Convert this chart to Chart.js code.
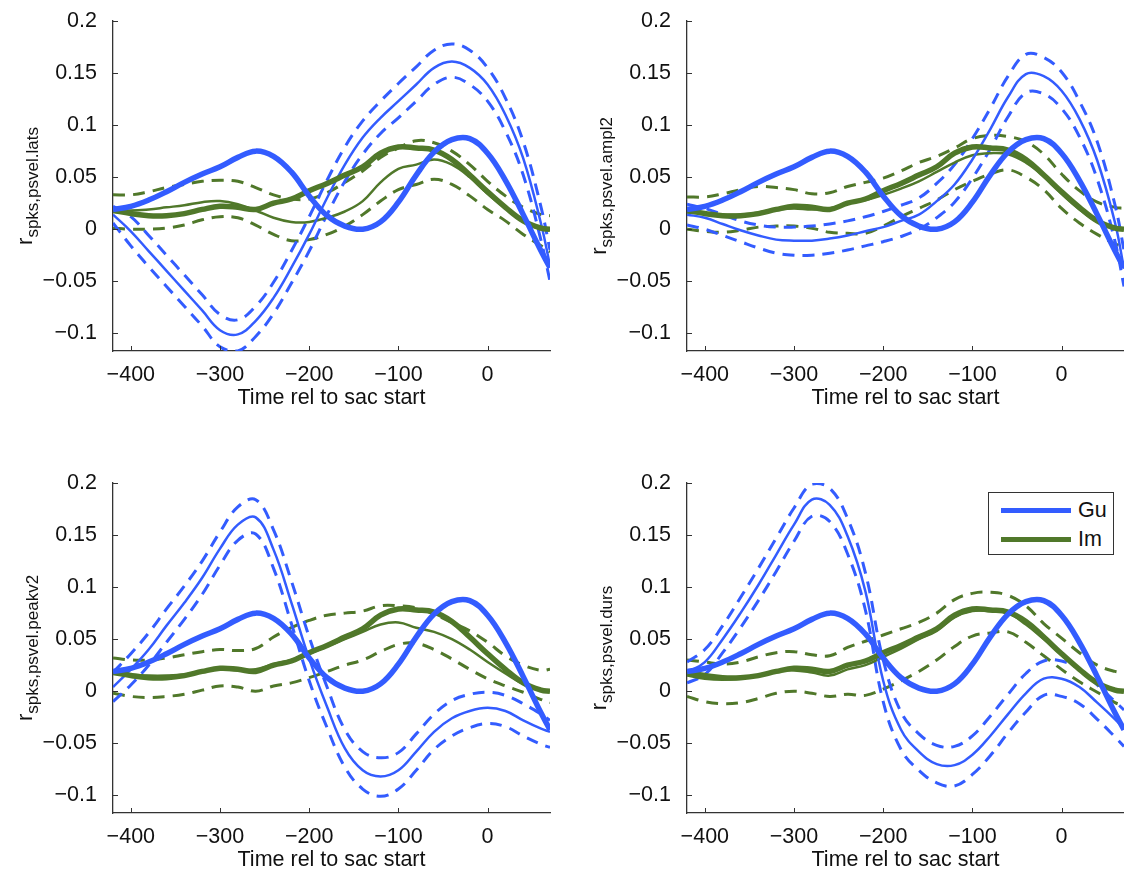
<!DOCTYPE html>
<html>
<head>
<meta charset="utf-8">
<script src="https://cdn.jsdelivr.net/npm/chart.js@4.4.1/dist/chart.umd.min.js"></script>
<style>
  html, body { margin: 0; padding: 0; background: #fff; overflow: hidden; }
  body { width: 1124px; height: 874px; position: relative; font-family: "Liberation Sans", Arial, Helvetica, sans-serif; color: #111; }
  .panel { position: absolute; width: 562px; height: 437px; }
  .ylab { position: absolute; transform: translate(-50%, -50%) rotate(-90deg); white-space: nowrap; font-size: 22px; line-height: 1; }
  .ylab sub { font-size: 17px; vertical-align: -6px; }
  .legend { position: absolute; left: 988px; top: 492px; width: 124px; height: 61px; border: 1.3px solid #333; background: #fff; }
  .legend .row { position: absolute; left: 12px; height: 24px; display: flex; align-items: center; font-size: 21.5px; }
  .legend .swatch { width: 70px; height: 5px; margin-right: 7px; }
</style>
</head>
<body>
<div class="panel" style="left:0;top:0"><canvas id="c-lats"></canvas></div>
<div class="panel" style="left:562px;top:0"><canvas id="c-ampl2"></canvas></div>
<div class="panel" style="left:0;top:437px"><canvas id="c-peakv2"></canvas></div>
<div class="panel" style="left:562px;top:437px"><canvas id="c-durs"></canvas></div>

<div class="ylab" style="left:27px;top:186px">r<sub>spks,psvel.lats</sub></div>
<div class="ylab" style="left:601px;top:186px">r<sub>spks,psvel.ampl2</sub></div>
<div class="ylab" style="left:27px;top:648px">r<sub>spks,psvel.peakv2</sub></div>
<div class="ylab" style="left:601px;top:648px">r<sub>spks,psvel.durs</sub></div>

<div class="legend">
  <div class="row" style="top:5px"><span class="swatch" style="background:#335cff"></span>Gu</div>
  <div class="row" style="top:34px"><span class="swatch" style="background:#50782a"></span>Im</div>
</div>

<script>
// time relative to saccade start (ms)
const timeMs = [-420, -400, -380, -360, -340, -320, -300, -280, -260, -240, -220, -200, -180, -160, -140, -120, -100, -80, -60, -40, -20, 0, 20, 40, 60, 70];
const timeTicks = [-400, -300, -200, -100, 0];
const rTicks = [-0.1, -0.05, 0, 0.05, 0.1, 0.15, 0.2];

// pooled curves, same in every panel
const guAll = [0.019, 0.022, 0.028, 0.036, 0.045, 0.053, 0.060, 0.069, 0.075, 0.070, 0.055, 0.032, 0.013, 0.003, 0.000, 0.007, 0.026, 0.052, 0.074, 0.086, 0.087, 0.073, 0.047, 0.014, -0.021, -0.037];
const imAll = [0.018, 0.015, 0.013, 0.013, 0.015, 0.019, 0.022, 0.021, 0.019, 0.025, 0.029, 0.037, 0.044, 0.052, 0.060, 0.073, 0.079, 0.078, 0.076, 0.067, 0.052, 0.036, 0.021, 0.008, 0.001, 0.000];

// lats
const guLats   = [0.014, -0.002, -0.021, -0.040, -0.059, -0.078, -0.097, -0.101, -0.088, -0.066, -0.037, -0.005, 0.030, 0.062, 0.088, 0.107, 0.123, 0.139, 0.155, 0.161, 0.155, 0.139, 0.110, 0.068, 0.005, -0.035];
const guLatsHi = [0.022, 0.012, -0.006, -0.025, -0.044, -0.063, -0.082, -0.087, -0.074, -0.051, -0.021, 0.012, 0.047, 0.079, 0.104, 0.123, 0.140, 0.156, 0.172, 0.178, 0.172, 0.155, 0.126, 0.084, 0.021, -0.020];
const guLatsLo = [0.006, -0.016, -0.036, -0.055, -0.074, -0.093, -0.113, -0.117, -0.103, -0.081, -0.052, -0.021, 0.014, 0.046, 0.072, 0.092, 0.107, 0.123, 0.139, 0.146, 0.139, 0.123, 0.094, 0.052, -0.011, -0.050];
const imLats   = [0.019, 0.018, 0.019, 0.021, 0.023, 0.026, 0.027, 0.024, 0.018, 0.011, 0.007, 0.007, 0.011, 0.017, 0.027, 0.045, 0.058, 0.062, 0.067, 0.062, 0.050, 0.034, 0.020, 0.007, 0.000, -0.001];
const imLatsHi = [0.033, 0.033, 0.036, 0.040, 0.043, 0.046, 0.047, 0.046, 0.040, 0.033, 0.029, 0.029, 0.035, 0.045, 0.056, 0.069, 0.078, 0.085, 0.083, 0.075, 0.062, 0.046, 0.032, 0.021, 0.014, 0.013];
const imLatsLo = [0.001, 0.000, 0.000, 0.001, 0.004, 0.009, 0.012, 0.011, 0.004, -0.005, -0.011, -0.010, -0.005, 0.003, 0.014, 0.027, 0.038, 0.043, 0.048, 0.043, 0.032, 0.019, 0.008, -0.005, -0.016, -0.022];

// ampl2
const guAmpl   = [0.014, 0.011, 0.005, -0.001, -0.006, -0.010, -0.011, -0.011, -0.009, -0.006, -0.002, 0.002, 0.008, 0.014, 0.027, 0.043, 0.067, 0.096, 0.127, 0.149, 0.147, 0.133, 0.106, 0.066, 0.006, -0.038];
const guAmplHi = [0.024, 0.020, 0.014, 0.008, 0.004, 0.002, 0.002, 0.003, 0.005, 0.008, 0.012, 0.017, 0.023, 0.030, 0.044, 0.062, 0.087, 0.116, 0.147, 0.168, 0.165, 0.151, 0.123, 0.084, 0.023, -0.020];
const guAmplLo = [0.004, 0.000, -0.006, -0.012, -0.018, -0.023, -0.025, -0.025, -0.023, -0.020, -0.016, -0.012, -0.007, 0.000, 0.011, 0.026, 0.049, 0.077, 0.108, 0.131, 0.130, 0.116, 0.089, 0.048, -0.012, -0.055];
const imAmpl   = [0.016, 0.015, 0.014, 0.014, 0.016, 0.019, 0.020, 0.019, 0.020, 0.025, 0.028, 0.033, 0.039, 0.046, 0.055, 0.064, 0.071, 0.073, 0.072, 0.064, 0.051, 0.034, 0.019, 0.007, 0.001, 0.000];
const imAmplHi = [0.031, 0.031, 0.034, 0.038, 0.041, 0.040, 0.038, 0.034, 0.035, 0.041, 0.045, 0.049, 0.056, 0.064, 0.070, 0.078, 0.087, 0.090, 0.089, 0.084, 0.072, 0.053, 0.037, 0.026, 0.021, 0.020];
const imAmplLo = [0.000, -0.002, -0.003, -0.001, 0.002, 0.003, 0.003, 0.001, -0.003, -0.004, -0.004, 0.003, 0.012, 0.020, 0.028, 0.038, 0.046, 0.053, 0.057, 0.050, 0.038, 0.020, 0.006, -0.005, -0.014, -0.017];

// peakv2
const guPeak   = [0.004, 0.021, 0.040, 0.063, 0.085, 0.109, 0.137, 0.160, 0.167, 0.136, 0.085, 0.031, -0.015, -0.055, -0.076, -0.082, -0.076, -0.058, -0.039, -0.026, -0.019, -0.016, -0.019, -0.028, -0.036, -0.039];
const guPeakHi = [0.018, 0.036, 0.056, 0.079, 0.101, 0.125, 0.153, 0.177, 0.184, 0.155, 0.106, 0.052, 0.004, -0.037, -0.058, -0.064, -0.059, -0.041, -0.022, -0.009, -0.003, -0.001, -0.004, -0.012, -0.022, -0.028];
const guPeakLo = [-0.010, 0.006, 0.025, 0.047, 0.069, 0.093, 0.121, 0.145, 0.151, 0.118, 0.065, 0.010, -0.035, -0.073, -0.094, -0.101, -0.094, -0.076, -0.056, -0.043, -0.035, -0.031, -0.034, -0.043, -0.051, -0.054];
const imPeak   = [0.017, 0.016, 0.015, 0.015, 0.016, 0.019, 0.021, 0.020, 0.021, 0.026, 0.030, 0.036, 0.043, 0.050, 0.057, 0.064, 0.066, 0.061, 0.057, 0.050, 0.040, 0.028, 0.017, 0.007, 0.002, 0.000];
const imPeakHi = [0.032, 0.030, 0.030, 0.032, 0.035, 0.038, 0.040, 0.039, 0.041, 0.052, 0.061, 0.068, 0.073, 0.075, 0.077, 0.082, 0.082, 0.080, 0.074, 0.066, 0.058, 0.047, 0.034, 0.025, 0.020, 0.021];
const imPeakLo = [-0.002, -0.005, -0.006, -0.005, -0.003, 0.001, 0.005, 0.004, 0.000, 0.005, 0.008, 0.013, 0.019, 0.025, 0.030, 0.038, 0.045, 0.046, 0.040, 0.031, 0.021, 0.012, 0.005, -0.001, -0.008, -0.011];

// durs
const guDurs   = [0.018, 0.028, 0.050, 0.075, 0.102, 0.131, 0.160, 0.184, 0.179, 0.149, 0.096, 0.010, -0.037, -0.058, -0.070, -0.071, -0.061, -0.043, -0.022, -0.002, 0.012, 0.012, 0.004, -0.011, -0.027, -0.036];
const guDursHi = [0.028, 0.040, 0.063, 0.090, 0.118, 0.147, 0.176, 0.199, 0.195, 0.166, 0.114, 0.030, -0.020, -0.041, -0.052, -0.053, -0.043, -0.024, -0.003, 0.017, 0.029, 0.029, 0.021, 0.006, -0.010, -0.018];
const guDursLo = [0.008, 0.016, 0.037, 0.061, 0.087, 0.115, 0.144, 0.168, 0.163, 0.132, 0.078, -0.010, -0.056, -0.076, -0.088, -0.091, -0.080, -0.062, -0.040, -0.020, -0.004, -0.005, -0.012, -0.027, -0.044, -0.053];
const imDurs   = [0.015, 0.012, 0.011, 0.012, 0.015, 0.019, 0.020, 0.018, 0.015, 0.021, 0.025, 0.033, 0.041, 0.050, 0.058, 0.071, 0.077, 0.077, 0.075, 0.064, 0.050, 0.035, 0.020, 0.008, 0.002, 0.000];
const imDursHi = [0.030, 0.028, 0.026, 0.028, 0.033, 0.037, 0.038, 0.035, 0.034, 0.042, 0.048, 0.054, 0.060, 0.066, 0.075, 0.088, 0.094, 0.095, 0.092, 0.082, 0.065, 0.051, 0.037, 0.025, 0.019, 0.018];
const imDursLo = [-0.005, -0.010, -0.012, -0.011, -0.007, -0.002, 0.000, -0.002, -0.005, -0.003, -0.004, 0.002, 0.010, 0.019, 0.030, 0.043, 0.053, 0.056, 0.057, 0.047, 0.034, 0.021, 0.009, -0.001, -0.011, -0.014];

const GU_BLUE = '#335cff';
const IM_GREEN = '#50782a';
const AXIS = '#333';
const FONT = '"Liberation Sans", Arial, Helvetica, sans-serif';

Chart.defaults.font.family = FONT;
Chart.defaults.font.size = 21.5;
Chart.defaults.color = '#111';

// short tick marks pointing into the plot
const inwardTicks = {
  id: 'inwardTicks',
  afterDraw(chart) {
    const { ctx, chartArea, scales: { x, y } } = chart;
    ctx.save();
    ctx.strokeStyle = AXIS;
    ctx.lineWidth = 1;
    ctx.beginPath();
    x.ticks.forEach((t) => {
      const px = Math.round(x.getPixelForValue(t.value)) + 0.5;
      ctx.moveTo(px, chartArea.bottom);
      ctx.lineTo(px, chartArea.bottom - 5);
    });
    y.ticks.forEach((t) => {
      const py = Math.round(y.getPixelForValue(t.value)) + 0.5;
      ctx.moveTo(chartArea.left, py);
      ctx.lineTo(chartArea.left + 5, py);
    });
    ctx.stroke();
    ctx.restore();
  },
};

function series(values, color, width, dash, order) {
  return {
    data: timeMs.map((t, i) => ({ x: t, y: values[i] })),
    borderColor: color,
    borderWidth: width,
    borderDash: dash,
    pointRadius: 0,
    tension: 0.4,
    fill: false,
    clip: 0,
    order,
  };
}

const signed = (v) => (v < 0 ? '\u2212' + Math.abs(v) : String(v));

function renderPanel(canvasId, gu, guHi, guLo, im, imHi, imLo, top, yAxisWidth) {
  const dash = [12, 8];
  new Chart(document.getElementById(canvasId), {
    type: 'line',
    data: {
      datasets: [
        series(guAll, GU_BLUE, 5.5, [], 0),
        series(imAll, IM_GREEN, 5.5, [], 1),
        series(gu, GU_BLUE, 2.5, [], 2),
        series(im, IM_GREEN, 2.5, [], 3),
        series(guHi, GU_BLUE, 3, dash, 4),
        series(guLo, GU_BLUE, 3, dash, 5),
        series(imHi, IM_GREEN, 3, dash, 6),
        series(imLo, IM_GREEN, 3, dash, 7),
      ],
    },
    options: {
      responsive: true,
      maintainAspectRatio: false,
      animation: false,
      events: [],
      layout: { padding: { top, right: yAxisWidth === 113 ? 12 : 0, bottom: 437 - top - 330 - 60, left: 0 } },
      plugins: { legend: { display: false }, tooltip: { enabled: false } },
      scales: {
        x: {
          type: 'linear',
          min: -420,
          max: 70,
          afterBuildTicks: (scale) => { scale.ticks = timeTicks.map((v) => ({ value: v })); },
          afterFit: (scale) => { scale.height = 60; },
          grid: { display: false },
          border: { display: true, color: AXIS, width: 1.3 },
          ticks: { padding: 3, maxRotation: 0, callback: signed, color: '#111' },
          title: { display: true, text: 'Time rel to sac start', padding: { top: 0, bottom: 0 }, color: '#111' },
        },
        y: {
          type: 'linear',
          min: -0.117,
          max: 0.2,
          afterBuildTicks: (scale) => { scale.ticks = rTicks.map((v) => ({ value: v })); },
          afterFit: (scale) => { scale.width = yAxisWidth; },
          grid: { display: false },
          border: { display: true, color: AXIS, width: 1.3 },
          ticks: { padding: 8, callback: signed, color: '#111' },
        },
      },
    },
    plugins: [inwardTicks],
  });
}

renderPanel('c-lats', guLats, guLatsHi, guLatsLo, imLats, imLatsHi, imLatsLo, 21, 113);
renderPanel('c-ampl2', guAmpl, guAmplHi, guAmplLo, imAmpl, imAmplHi, imAmplLo, 21, 125);
renderPanel('c-peakv2', guPeak, guPeakHi, guPeakLo, imPeak, imPeakHi, imPeakLo, 46, 113);
renderPanel('c-durs', guDurs, guDursHi, guDursLo, imDurs, imDursHi, imDursLo, 46, 125);
</script>
</body>
</html>
